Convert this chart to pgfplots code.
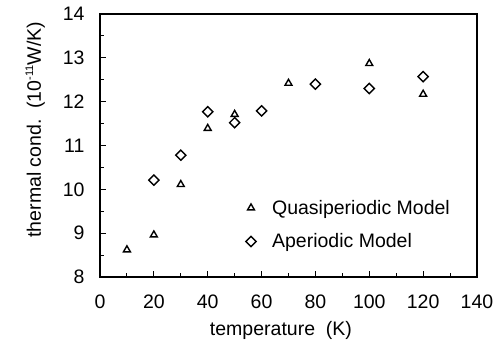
\documentclass[border=0pt]{standalone}
\usepackage{pgfplots}
\pgfplotsset{compat=1.18}
\usepackage{fontspec}
\setmainfont{Liberation Sans}
\begin{document}
\begin{tikzpicture}[x=1pt,y=1pt]
\begin{axis}[
  at={(0,0)}, anchor=south west,
  scale only axis, width=377pt, height=263pt,
  xmin=0, xmax=140, ymin=8, ymax=14,
  xtick={0,20,...,140}, minor xtick={10,30,...,130},
  ytick={8,...,14}, minor ytick={8.5,9.5,...,13.5},
  tick align=inside, xtick pos=bottom, ytick pos=left,
  major tick length=6pt, minor tick length=4pt,
  tick style={black, line width=0.9pt},
  axis line style={line width=1.1pt},
  /pgf/number format/assume math mode=true,
  tick label style={font=\fontsize{19.5}{21}\selectfont},
  label style={font=\fontsize{19.5}{21}\selectfont},
  xlabel={temperature\ \ (K)},
  ylabel={thermal cond.\ \ (10\raisebox{0.75ex}{\fontsize{11}{12}\selectfont -11}W/K)},
  xlabel style={at={(ticklabel cs:0.48)}, yshift=-6pt},
  ylabel style={at={(ticklabel cs:0.56)}, yshift=11pt},
  xticklabel style={yshift=-14pt},
  yticklabel style={xshift=-12pt},
  legend style={draw=none, fill=none, at={(axis cs:53,9.85)}, anchor=north west,
    font=\fontsize{19.5}{21}\selectfont, row sep=14pt, column sep=14pt},
  legend cell align=left,
]
\addplot[only marks, mark=triangle, mark size=4pt, line width=1.4pt, black] coordinates {
(10,8.62) (20,8.96) (30,10.11) (40,11.39) (50,11.71) (70,12.42) (100,12.87) (120,12.17)
};
\addlegendentry{Quasiperiodic Model}
\addplot[only marks, mark=square, mark options={rotate=45}, mark size=3.6pt, line width=1.4pt, black] coordinates {
(20,10.21) (30,10.78) (40,11.77) (50,11.52) (60,11.79) (80,12.40) (100,12.30) (120,12.57)
};
\addlegendentry{Aperiodic Model}
\end{axis}
\pgfresetboundingbox
\path[use as bounding box] (-100pt,-73pt) rectangle (395pt,277pt);
\end{tikzpicture}
\end{document}
